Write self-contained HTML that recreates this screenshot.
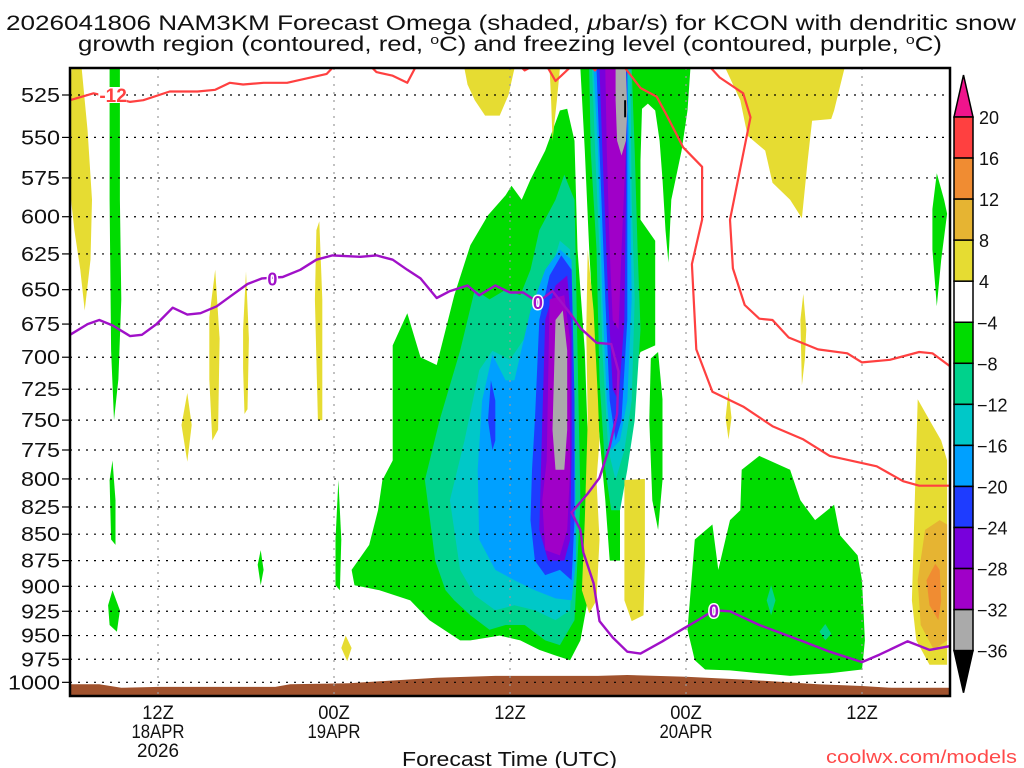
<!DOCTYPE html>
<html><head><meta charset="utf-8"><style>
html,body{margin:0;padding:0;background:#fff;}
svg{display:block;font-family:"Liberation Sans",sans-serif;}
</style></head><body>
<svg id="chart" width="1024" height="768" viewBox="0 0 1024 768" xmlns="http://www.w3.org/2000/svg">
<defs><clipPath id="plotclip"><rect x="70" y="68" width="880" height="628"/></clipPath></defs>
<rect x="0" y="0" width="1024" height="768" fill="#fff"/>
<g font-size="21" fill="#111">
<text x="6" y="30" textLength="1010" lengthAdjust="spacingAndGlyphs">2026041806 NAM3KM Forecast Omega (shaded, <tspan font-style="italic">μ</tspan>bar/s) for KCON with dendritic snow</text>
<text x="78" y="51" textLength="864" lengthAdjust="spacingAndGlyphs">growth region (contoured, red, <tspan font-size="13" dy="-7">o</tspan><tspan dy="7">C) and freezing level (contoured, purple, </tspan><tspan font-size="13" dy="-7">o</tspan><tspan dy="7">C)</tspan></text>
</g>
<g id="fills" clip-path="url(#plotclip)"></g>
<g id="terrain" clip-path="url(#plotclip)"></g>
<g id="grid"></g>
<g id="lines" clip-path="url(#plotclip)"></g>
<rect x="70" y="68" width="880" height="628" fill="none" stroke="#000" stroke-width="2.5"/>
<g id="yaxis"></g>
<g id="xaxis"></g>
<text x="402" y="766" font-size="20" textLength="215" lengthAdjust="spacingAndGlyphs" fill="#111">Forecast Time (UTC)</text>
<text x="826" y="763" font-size="18" textLength="191" lengthAdjust="spacingAndGlyphs" fill="#ff4a4a">coolwx.com/models</text>
<g id="colorbar"></g>
</svg>
<script>
// ---------- data ----------
var yTicks = [525,550,575,600,625,650,675,700,725,750,775,800,825,850,875,900,925,950,975,1000];
var xTickHours = [6,18,30,42,54];
var xTickLine1 = ["12Z","00Z","12Z","00Z","12Z"];
var xTickLine2 = ["18APR","19APR","","20APR",""];
var xTickLine3 = ["2026","","","",""];
var cbLevels = [20,16,12,8,4,-4,-8,-12,-16,-20,-24,-28,-32,-36];

var shapeLevel = [-4,-4,-4,-4,-4,-4,-4,-4,-4,-4,-4,
 -8,-12,-16,-20,-20,-24,-28,-32,
 -8,-12,-16,-20,-24,-28,-32,
 -8,-8,
 4,4,4,4,4,4,4,4,4,4,4,4,4,4,8,12];
var shapeHours = [
 [22.0,23.0,23.9,25.0,26.2,27.3,28.5,29.7,30.1,30.8,31.4,32.4,33.4,33.9,34.4,34.6,35.1,35.4,35.3,34.8,34.1,33.1,32.0,30.7,29.3,27.3,26.6,24.5,23.2,21.1,19.4,19.2,20.4,21.0,21.3,22.0],
 [18.1,18.3,18.5,18.4,18.1],
 [34.8,42.3,42.1,41.7,41.0,40.8,40.6,40.4,40.2,39.9,39.4,39.0,38.9,38.9,39.9,39.9,38.9,37.8,37.5,37.5,36.8,36.5,36.0,35.7,35.4,35.1],
 [39.6,40.1,40.4,40.4,40.1,39.7,39.5],
 [2.7,3.4,3.4,3.5,3.3,3.0,2.8,2.7],
 [2.7,2.9,3.1,3.1,2.8],
 [2.6,2.9,3.4,3.2,2.7],
 [12.8,13.0,13.2,13.0],
 [58.8,59.1,59.6,59.8,59.4,59.1,58.8],
 [42.6,43.8,44.2,45.0,45.7,45.8,47.0,49.1,49.8,50.8,52.1,52.5,53.7,54.0,54.2,54.0,51.8,49.1,47.0,45.0,43.3,42.6,42.1],
 [24.9,25.6,26.2,25.5],
 [24.2,25.2,26.6,27.6,28.6,29.7,30.7,31.4,32.0,33.1,33.7,34.4,34.6,34.8,34.4,33.4,32.4,31.0,29.7,28.6,27.3,26.2,25.6,24.9],
 [25.9,26.9,27.9,28.8,30.0,31.4,32.4,33.4,34.1,34.3,34.4,34.1,33.1,31.7,30.3,29.0,27.6,26.6],
 [27.8,28.1,28.8,29.7,30.3,31.4,32.4,33.4,34.2,34.4,34.5,34.2,33.1,31.7,30.3,29.0,27.9],
 [28.5,28.7,29.0,29.0,28.8],
 [31.7,32.0,32.7,33.5,34.2,34.4,34.4,34.2,33.4,32.4,31.7,31.4,31.5],
 [32.2,32.4,33.1,33.9,34.2,34.2,34.1,33.7,32.6,32.0],
 [32.5,32.7,33.7,34.1,34.1,33.9,33.4,32.4,32.2],
 [32.9,33.1,33.6,33.9,33.9,33.7,33.1],
 [35.4,38.3,38.5,38.7,38.9,38.5,38.0,37.5,36.9,36.5,36.1,35.9,35.5],
 [35.6,38.2,38.3,38.5,38.3,37.8,37.2,36.7,36.3,36.1,35.8],
 [35.7,38.0,38.2,38.3,38.0,37.5,36.9,36.6,36.3,36.0],
 [35.9,38.0,38.0,38.0,37.6,37.2,36.8,36.5,36.1],
 [36.1,37.9,37.9,37.8,37.4,37.0,36.7,36.3],
 [36.5,37.9,37.9,37.6,37.4,37.0,36.8,36.6],
 [37.2,37.9,38.0,37.9,37.6,37.3,37.2],
 [47.5,47.8,48.1,47.8],
 [51.1,51.5,51.9,51.5],
 [0.1,0.8,1.2,1.5,1.4,1.0,0.7,0.3,0,0],
 [26.9,30.3,29.9,29.3,28.3,27.6,27.1],
 [32.7,33.4,33.2,32.9,32.8],
 [16.8,17.0,17.2,17.2,16.9,16.7],
 [9.5,9.9,10.2,10.1,9.7,9.5],
 [11.8,12.0,12.2,12.1,11.9,11.8],
 [7.6,8.0,8.3,8.0],
 [18.5,18.8,19.2,18.9],
 [35.3,35.7,36.0,36.1,35.9,36.1,35.9,35.4,34.9,35.1,35.3,35.2],
 [37.8,39.2,39.2,39.1,38.3,37.8],
 [44.7,52.8,52.1,51.9,50.6,50.3,49.9,49.1,47.9,47.4,46.2,45.7],
 [49.8,50.0,50.2,50.1,49.9],
 [44.7,44.9,45.1,44.9],
 [57.8,58.6,59.4,59.8,59.8,58.6,57.7,57.4,57.6],
 [58.3,59.3,59.8,59.8,58.9,58.0,57.8],
 [59.0,59.3,59.4,59.2,58.6,58.4]
];
var shapePres = [
 [691,667,700,706,654,619,599,586,580,589,576,558,534,533,552,622,695,801,914,955,976,971,965,955,950,955,955,934,914,904,899,884,860,828,801,784],
 [855,801,855,904,899],
 [510,510,534,558,589,631,609,576,552,534,530,533,564,602,616,691,696,730,775,875,875,819,750,679,622,558],
 [701,696,733,801,846,819,750],
 [510,510,589,657,717,750,695,589],
 [801,784,819,860,855],
 [919,904,924,946,939],
 [879,865,884,899],
 [595,572,589,598,629,662,622],
 [855,841,884,837,828,792,780,792,819,837,823,851,870,894,955,986,990,993,990,987,986,976,944],
 [875,860,890,905],
 [801,750,695,650,657,650,654,636,609,589,573,589,695,819,934,960,955,939,939,944,929,914,904,875],
 [819,767,710,695,702,679,650,616,622,734,865,924,934,924,919,924,909,884],
 [792,734,698,718,718,665,636,622,629,734,875,914,912,904,894,884,855],
 [750,718,734,767,775],
 [750,672,640,626,636,734,837,894,884,889,875,837,792],
 [750,672,647,640,679,775,855,875,875,846],
 [784,657,654,687,792,846,870,865,819],
 [758,672,665,695,758,792,792],
 [510,510,558,622,679,750,792,828,828,792,718,622,558],
 [510,510,589,657,734,775,801,775,695,622,558],
 [510,510,589,657,734,767,775,734,657,558],
 [510,510,589,672,750,767,734,657,558],
 [510,510,589,672,734,725,657,558],
 [510,510,558,622,679,672,622,558],
 [510,510,534,552,561,552,528],
 [914,899,914,929],
 [946,938,948,955],
 [510,510,546,589,629,665,636,609,583,522],
 [510,510,525,537,537,528,519],
 [510,510,528,552,528],
 [609,603,657,750,750,657],
 [670,636,686,758,767,717],
 [679,637,686,741,745,709],
 [754,728,754,785],
 [963,950,963,977],
 [622,665,734,767,801,855,914,927,904,837,750,679],
 [801,800,875,929,935,914],
 [510,510,534,539,540,564,601,589,578,558,549,528],
 [672,653,679,702,722],
 [748,726,748,766],
 [733,750,767,784,981,981,955,914,819],
 [846,837,841,955,965,939,894],
 [878,884,914,934,919,894]
];

var terrainHours = [0,2,3.5,6,14,15,19,22,25,29,36,38,42,46,51,54,56,60];
var terrainPres  = [1002,1002,1006,1005,1005,1002,1001,998,995,993,993,992,994,997,1002,1004,1006,1006];

var redHours = [
 [0,1.6,3.2,4.1,5.0,6.8,8.7,9.9,10.9,11.8,13.2,14.8,15.9,17.5,18.2],
 [20.3,20.9,22.0,23.0,23.7],
 [30.5,31.0,31.9],
 [32.4,32.9,33.1,33.5,34.4],
 [35.3,35.8,36.1],
 [37.6,38.9,40.0,40.7,41.8,43.1,43.1,42.4,42.7,43.8,45.9,47.9,50.0,51.8,55.0,56.8,57.9,60],
 [43.4,44.3,45.9,46.4,45.0,45.2,46.0,47.0,47.9,49.0,51.0,53.0,54.0,55.9,57.9,58.8,60]
];
var redPres = [
 [528,524,527,529,528,523,523,522,518,519,518,518,516,513,507],
 [507,512,514,518,507],
 [507,511,507],
 [507,514,517,514,507],
 [507,511,507],
 [507,521,526,537,556,568,602,632,694,727,739,755,766,780,789,802,806,806],
 [507,515,524,538,602,635,661,671,672,685,694,697,704,702,696,697,707]
];
var redLabelHour = [2.0];
var redLabelPres = [525];
var redLabelText = ["-12"];

var frzHours = [0,1.2,2.0,2.9,4.1,4.9,5.9,7.0,8.0,8.9,10.0,10.9,12.1,13.1,14.5,15.7,16.8,17.9,19.8,20.9,22.0,23.0,23.9,25.0,25.9,27.1,27.9,29.0,30.0,30.9,31.9,32.9,34.1,34.8,35.9,36.9,37.4,37.3,36.8,36.1,35.3,34.2,34.8,35.0,35.7,36.1,37.0,38.0,38.9,40.4,41.8,42.7,43.9,45.0,47.0,49.8,51.8,54.0,55.2,57.1,58.6,60];
var frzPres  = [683,675,672,676,684,683,675,663,668,667,662,655,646,642,641,636,629,626,627,626,629,636,642,656,651,647,654,647,652,652,659,651,667,678,689,690,711,745,772,799,813,830,846,867,897,935,952,967,969,956,943,935,924,925,939,955,967,978,970,956,965,961];
var frzLabelHour = [13.8,31.9,43.9];
var frzLabelPres = [642,659,924];

// ---------- scales ----------
var X0=70, X1=950, H0=0, H1=60;
function xOf(h){ return X0 + (h-H0)*(X1-X0)/(H1-H0); }
function yOf(p){ return 95 + Math.log(p/525)*911.5; }
var NS="http://www.w3.org/2000/svg";
function mk(tag, attrs, parent){ var e=document.createElementNS(NS,tag); for(var k in attrs){ e.setAttribute(k,String(attrs[k])); } parent.appendChild(e); return e; }
var levelColor = {"-4":"#00dc00","-8":"#00d28c","-12":"#00c8c8","-16":"#00a0ff","-20":"#1e3cff","-24":"#7800dc","-28":"#a000c8","-32":"#aaaaaa","4":"#e6dc32","8":"#e6b432","12":"#f08c32","16":"#ff4040"};

// ---------- fills ----------
try {
  var gF=document.getElementById('fills');
  for(var i=0;i<shapeHours.length;i++){
    var hs=shapeHours[i], ps=shapePres[i], pts=[];
    for(var j=0;j<hs.length;j++){ pts.push(xOf(hs[j]).toFixed(1)+','+yOf(ps[j]).toFixed(1)); }
    var el=mk('polygon',{points:pts.join(' '),fill:levelColor[String(shapeLevel[i])]||'#e6dc32'},gF);
    
    
  }
  var mkr=mk('line',{x1:xOf(37.85),y1:yOf(528),x2:xOf(37.85),y2:yOf(538),stroke:'#000','stroke-width':2},gF);
  
  
} catch(e) {}

// ---------- terrain ----------
try {
  var gT=document.getElementById('terrain');
  var tp=[];
  for(var j=0;j<terrainHours.length;j++){ tp.push(xOf(terrainHours[j]).toFixed(1)+','+yOf(terrainPres[j]).toFixed(1)); }
  tp.push('950,700'); tp.push('70,700');
  var tel=mk('polygon',{points:tp.join(' '),fill:'#a0522d'},gT);
  
  
} catch(e) {}

// ---------- grid ----------
try {
  var gG=document.getElementById('grid');
  for(var i=0;i<yTicks.length;i++){
    var y=yOf(yTicks[i]);
    var gl=mk('line',{x1:70,x2:950,y1:y,y2:y,stroke:'#000','stroke-width':1.2,'stroke-dasharray':'2,6'},gG);
    
    
  }
  for(var i=0;i<xTickHours.length;i++){
    var x=xOf(xTickHours[i]);
    var vl=mk('line',{x1:x,x2:x,y1:68,y2:696,stroke:'#999','stroke-width':1.2,'stroke-dasharray':'2,6'},gG);
    
    
  }
} catch(e) {}

// ---------- lines ----------
try {
  var gL=document.getElementById('lines');
  for(var i=0;i<redHours.length;i++){
    var pts=[];
    for(var j=0;j<redHours[i].length;j++){ pts.push(xOf(redHours[i][j]).toFixed(1)+','+yOf(redPres[i][j]).toFixed(1)); }
    var rl=mk('polyline',{points:pts.join(' '),fill:'none',stroke:'#ff4040','stroke-width':2.2,'stroke-linejoin':'round'},gL);
    
    
  }
  for(var i=0;i<redLabelText.length;i++){
    var x=xOf(redLabelHour[i]), y=yOf(redLabelPres[i]);
    var rb=mk('rect',{x:x-1,y:y-8,width:28,height:16,fill:'#fff'},gL);
    
    
    var rt=mk('text',{x:x,y:y+7,'font-size':19,'font-weight':'bold',fill:'#ff4040'},gL);
    rt.textContent=redLabelText[i];
    
    
  }
  var fp=[];
  for(var j=0;j<frzHours.length;j++){ fp.push(xOf(frzHours[j]).toFixed(1)+','+yOf(frzPres[j]).toFixed(1)); }
  var fl=mk('polyline',{points:fp.join(' '),fill:'none',stroke:'#a010c8','stroke-width':2.4,'stroke-linejoin':'round'},gL);
  
  
  for(var i=0;i<frzLabelHour.length;i++){
    var x=xOf(frzLabelHour[i]), y=yOf(frzLabelPres[i]);
    var ft=mk('text',{x:x,y:y+7,'font-size':18,'font-weight':'bold',fill:'#a010c8','text-anchor':'middle',stroke:'#fff','stroke-width':3,'paint-order':'stroke'},gL);
    ft.textContent='0';
    
    
  }
} catch(e) {}

// ---------- y axis ----------
try {
  var gY=document.getElementById('yaxis');
  for(var i=0;i<yTicks.length;i++){
    var y=yOf(yTicks[i]);
    var tk=mk('line',{x1:62,x2:70,y1:y,y2:y,stroke:'#000','stroke-width':1.2},gY);
    
    
    var s=String(yTicks[i]);
    var yl=mk('text',{x:60,y:y+7,'font-size':20,'text-anchor':'end',fill:'#111',textLength:s.length*13,lengthAdjust:'spacingAndGlyphs'},gY);
    yl.textContent=s;
    
    
  }
} catch(e) {}

// ---------- x axis ----------
try {
  var gX=document.getElementById('xaxis');
  var rowY=[719,738,757];
  for(var i=0;i<xTickHours.length;i++){
    var x=xOf(xTickHours[i]);
    var lines3=[xTickLine1[i],xTickLine2[i],xTickLine3[i]];
    for(var k=0;k<3;k++){
      var s=lines3[k];
      if(!s) continue;
      var xl=mk('text',{x:x,y:rowY[k],'font-size':19,'text-anchor':'middle',fill:'#111',textLength:s.length*(k===1?10.6:10.5),lengthAdjust:'spacingAndGlyphs'},gX);
      xl.textContent=s;
      
      
    }
  }
} catch(e) {}

// ---------- colorbar ----------
try {
  var gC=document.getElementById('colorbar');
  var cbTop=117, cbStep=41.05, cbX=954, cbW=19;
  var ta=mk('polygon',{points:cbX+','+cbTop+' '+(cbX+cbW)+','+cbTop+' '+(cbX+cbW/2)+','+(cbTop-42),fill:'#f0148c',stroke:'#000','stroke-width':1.5},gC);
  
  
  for(var i=0;i<cbLevels.length-1;i++){
    var lv=cbLevels[i], lo=cbLevels[i+1], col;
    if(lv===4) col='#ffffff';
    else if(lv>4) col=levelColor[String(lo)];
    else col=levelColor[String(lv)];
    var bx=mk('rect',{x:cbX,y:cbTop+i*cbStep,width:cbW,height:cbStep,fill:col,stroke:'#000','stroke-width':1.5},gC);
    
    
  }
  var yb=cbTop+(cbLevels.length-1)*cbStep;
  var ba=mk('polygon',{points:cbX+','+yb+' '+(cbX+cbW)+','+yb+' '+(cbX+cbW/2)+','+(yb+42),fill:'#000',stroke:'#000','stroke-width':1.5},gC);
  
  
  for(var i=0;i<cbLevels.length;i++){
    var lv=cbLevels[i];
    var s=lv<0?'\u2212'+Math.abs(lv):String(lv);
    var cl=mk('text',{x:lv<0?977:979,y:cbTop+i*cbStep+7,'font-size':18,fill:'#111'},gC);
    cl.textContent=s;
    
    
  }
} catch(e) {}
</script>
</body></html>
